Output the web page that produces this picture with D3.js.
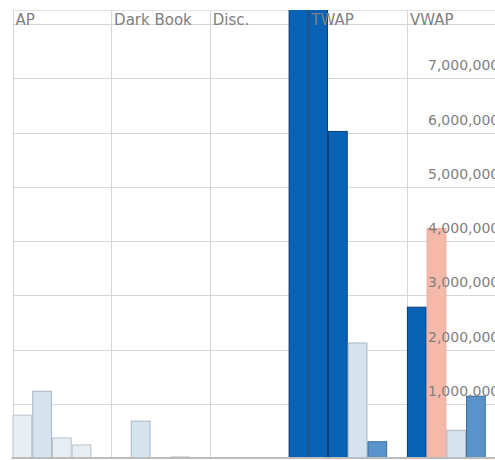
<!DOCTYPE html>
<html>
<head>
<meta charset="utf-8">
<script src="https://cdn.jsdelivr.net/npm/d3@7"></script>
<style>
  html, body { margin: 0; padding: 0; background: #fff; }
  svg { display: block; }
</style>
</head>
<body>
<svg id="chart" width="495" height="460"></svg>
<script>
// ---- data ----
const categories = ["AP", "Dark Book", "Disc.", "TWAP", "VWAP"];
const slots = ["s1", "s2", "s3", "s4", "s5"];
const s1 = [790000, 0, 0, 8800000, 2780000];
const s2 = [1230000, 680000, 0, 6020000, 4230000];
const s3 = [370000, 0, 0, 2120000, 510000];
const s4 = [240000, 20000, 0, 300000, 1140000];
const s5 = [0, 0, 9000000, 0, 0];
const gridValues = [1000000, 2000000, 3000000, 4000000, 5000000, 6000000, 7000000, 8000000];
const labelValues = [1000000, 2000000, 3000000, 4000000, 5000000, 6000000, 7000000];

// ---- styling (per-bar colour keys) ----
const colorKeys = [
  ["pale", "none", "none", "dark", "dark"],
  ["light", "light", "none", "dark", "salmon"],
  ["pale", "none", "none", "light", "light"],
  ["pale", "pale", "none", "mid", "mid"],
  ["none", "none", "dark", "none", "none"]
];
const palette = {
  dark:   { fill: "#0862b6", stroke: "#0a3e78" },
  mid:    { fill: "#5a93c9", stroke: "#3d6c9c" },
  light:  { fill: "#d4e3ee", stroke: "#a9b7c3" },
  pale:   { fill: "#e8eef2", stroke: "#b9c2ca" },
  salmon: { fill: "#f5b9aa", stroke: "#eba898" }
};

const seriesValues = [s1, s2, s3, s4, s5];

const svg = d3.select("#chart");
const plotTop = 10, plotBottom = 458, plotLeft = 12.5;

const x = d3.scaleBand().domain(categories).range([plotLeft, plotLeft + 5 * 98.6]).paddingInner(0).paddingOuter(0);
const xs = d3.scaleBand().domain(slots).range([0, x.bandwidth()]).padding(0);
const y = d3.scaleLinear().domain([0, 8000000]).range([plotBottom, 24]);

svg.append("defs").append("clipPath").attr("id", "plotClip")
  .append("rect").attr("x", 0).attr("y", plotTop).attr("width", 495).attr("height", plotBottom - plotTop);

// top border
svg.append("line").attr("x1", plotLeft).attr("x2", 495).attr("y1", plotTop + 0.5).attr("y2", plotTop + 0.5)
  .attr("stroke", "#e2e2e2").attr("stroke-width", 1);

// horizontal gridlines
svg.append("g").selectAll("line").data(gridValues).join("line")
  .attr("x1", plotLeft).attr("x2", 495)
  .attr("y1", d => Math.round(y(d)) + 0.5).attr("y2", d => Math.round(y(d)) + 0.5)
  .attr("stroke", "#d6d6d6").attr("stroke-width", 1);

// vertical dividers
svg.append("g").selectAll("line").data(categories).join("line")
  .attr("x1", d => Math.round(x(d)) + 0.5).attr("x2", d => Math.round(x(d)) + 0.5)
  .attr("y1", plotTop).attr("y2", plotBottom)
  .attr("stroke", "#d6d6d6").attr("stroke-width", 1);

// bars
const barData = [];
seriesValues.forEach((vals, si) => {
  vals.forEach((v, ci) => {
    const key = colorKeys[si][ci];
    if (v > 0 && key !== "none") barData.push({ cat: categories[ci], slot: slots[si], value: v, key });
  });
});
svg.append("g").attr("clip-path", "url(#plotClip)")
  .selectAll("rect").data(barData).join("rect")
  .attr("x", d => x(d.cat) + xs(d.slot) + 0.5)
  .attr("width", xs.bandwidth() - 1)
  .attr("y", d => y(d.value))
  .attr("height", d => y(0) - y(d.value))
  .attr("fill", d => palette[d.key].fill)
  .attr("stroke", d => palette[d.key].stroke)
  .attr("stroke-width", 1);

// bottom axis line
svg.append("line").attr("x1", plotLeft - 1).attr("x2", 495).attr("y1", plotBottom).attr("y2", plotBottom)
  .attr("stroke", "#bcbcbc").attr("stroke-width", 2);

// y labels (inside, right panel; cut at the right edge as in the reference)
const fmt = d3.format(",");
svg.append("g").selectAll("text").data(labelValues).join("text")
  .attr("x", 428).attr("y", d => y(d) - 8)
  .attr("font-family", "DejaVu Sans, sans-serif").attr("font-size", 14)
  .attr("fill", "#7f7f7f")
  .text(d => fmt(d));

// header labels
svg.append("g").selectAll("text").data(categories).join("text")
  .attr("x", d => x(d) + 3).attr("y", 25)
  .attr("font-family", "DejaVu Sans, sans-serif").attr("font-size", 15)
  .attr("fill", "#808080")
  .text(d => d);
</script>
</body>
</html>
